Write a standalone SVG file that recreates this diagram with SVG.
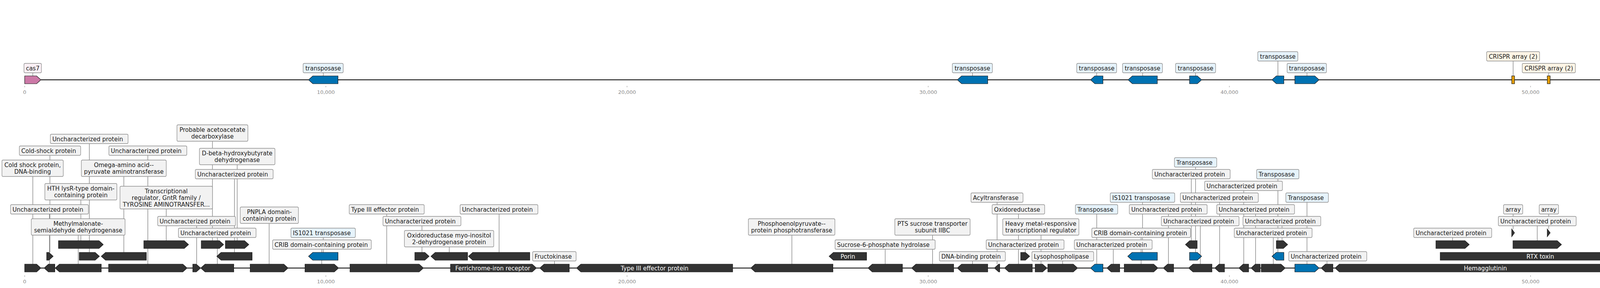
<svg xmlns="http://www.w3.org/2000/svg" width="6788" height="736" viewBox="0 0 6788 736">
<style>
text{font-family:"DejaVu Sans",sans-serif;font-size:15px;fill:#1a1a1a}
.m{text-anchor:middle}
.w{fill:#ffffff}
.ax{font-size:13px;fill:#8a8a8a;text-anchor:middle}
.tk{stroke:#8a8a8a;stroke-width:1}
.trk{stroke:#000;stroke-width:2.2}
.gn{fill:#333333;stroke:#1a1a1a;stroke-width:1.2}
.tp{fill:#0072b2;stroke:#1a1a1a;stroke-width:1.2}
.c7{fill:#cc79a7;stroke:#1a1a1a;stroke-width:1.2}
.c8{fill:#f0e442;stroke:#1a1a1a;stroke-width:1.2}
.c5{fill:#56b4e9;stroke:#1a1a1a;stroke-width:1.2}
.cr{fill:#e69f00;stroke:#1a1a1a;stroke-width:1.2}
.lb{fill:#f2f2f2;stroke:#8f8f8f;stroke-width:1.3}
.lt{fill:#e6f3fb;stroke:#8f8f8f;stroke-width:1.3}
.lc{fill:#fdf5e6;stroke:#8f8f8f;stroke-width:1.3}
.lp{fill:#faf0f5;stroke:#8f8f8f;stroke-width:1.3}
#connectors path{stroke:#555;stroke-width:1;fill:none}
</style>
<rect width="6788" height="736" fill="#ffffff"/>
<g id="axes">
<line class="trk" x1="63" y1="204" x2="6728" y2="204"/>
<line class="trk" x1="63" y1="685" x2="6728" y2="685"/>
<path class="tk" d="M63.2 219.5V223M834.2 219.5V223M1605.2 219.5V223M2376.2 219.5V223M3147.2 219.5V223M3918.2 219.5V223M4689.2 219.5V223M5460.2 219.5V223M6231.2 219.5V223M63.2 703.5V707.5M834.2 703.5V707.5M1605.2 703.5V707.5M2376.2 703.5V707.5M3147.2 703.5V707.5M3918.2 703.5V707.5M4689.2 703.5V707.5M5460.2 703.5V707.5M6231.2 703.5V707.5"/>
<text class="ax" x="63.2" y="240">0</text><text class="ax" x="834.2" y="240">10,000</text><text class="ax" x="1605.2" y="240">20,000</text><text class="ax" x="2376.2" y="240">30,000</text><text class="ax" x="3147.2" y="240">40,000</text><text class="ax" x="3918.2" y="240">50,000</text><text class="ax" x="4689.2" y="240">60,000</text><text class="ax" x="5460.2" y="240">70,000</text><text class="ax" x="6231.2" y="240">80,000</text>
<text class="ax" x="63.2" y="724">0</text><text class="ax" x="834.2" y="724">10,000</text><text class="ax" x="1605.2" y="724">20,000</text><text class="ax" x="2376.2" y="724">30,000</text><text class="ax" x="3147.2" y="724">40,000</text><text class="ax" x="3918.2" y="724">50,000</text><text class="ax" x="4689.2" y="724">60,000</text><text class="ax" x="5460.2" y="724">70,000</text><text class="ax" x="6231.2" y="724">80,000</text>
</g>
<g id="connectors">
<path d="M84 186V194"/><path d="M827.5 186V194"/><path d="M2489.6 186V194"/><path d="M2807.7 186V194"/><path d="M2925.3 186V194"/><path d="M3060.7 186V194"/><path d="M3271.5 156V194"/><path d="M3345.9 186V194"/><path d="M3873.6 156V194"/><path d="M3964.8 186V194"/><path d="M6328.3 186V194"/>
<path d="M84 451V675"/><path d="M126.7 547V675"/><path d="M200.2 601V675"/><path d="M378.5 397V675"/><path d="M503.5 577V675"/><path d="M556.3 607V675"/><path d="M689 571V675"/><path d="M823.7 637V675"/><path d="M990 547V675"/><path d="M1419.5 667V675"/><path d="M2027.2 601V675"/><path d="M2266.1 637V675"/><path d="M2387.5 601V675"/><path d="M2489.6 667V675"/><path d="M2552.5 517V675"/><path d="M2607.2 547V675"/><path d="M2665 601V675"/><path d="M2720.5 667V675"/><path d="M2807.7 547V675"/><path d="M2850 637V675"/><path d="M2921.2 607V675"/><path d="M2991.2 547V675"/><path d="M3072.8 577V675"/><path d="M3122.3 517V675"/><path d="M3184 487V675"/><path d="M3214.3 547V675"/><path d="M3259.6 607V675"/><path d="M3345.9 517V675"/><path d="M3397.1 667V675"/><path d="M4298.3 577V675"/><path d="M4459.2 607V675"/><path d="M4616.6 451V675"/><path d="M4685.6 547V675"/><path d="M4831.6 631V675"/><path d="M4959 511V675"/><path d="M5076.7 631V675"/><path d="M5150.9 577V675"/><path d="M5318 517V675"/><path d="M5524.3 571V675"/><path d="M5661.3 637V675"/><path d="M5700.7 667V675"/><path d="M5827.3 607V675"/><path d="M5954.6 667V675"/><path d="M6095.5 607V675"/><path d="M6224 541V675"/><path d="M6332.2 637V675"/><path d="M6466.1 667V675"/><path d="M6586.3 547V675"/><path d="M6668 631V675"/>
<path d="M127.8 397V645"/><path d="M228.7 367V645"/><path d="M317 451V645"/><path d="M600.2 457V645"/><path d="M827.5 607V645"/><path d="M1080.2 577V645"/><path d="M1150.1 631V645"/><path d="M1277.7 547V645"/><path d="M2624.5 637V645"/><path d="M2924.9 517V645"/><path d="M3060.7 427V645"/><path d="M3271.5 457V645"/><path d="M4327 547V645"/><path d="M4456.2 637V645"/><path d="M4549 511V645"/><path d="M4751.3 577V645"/><path d="M5029.6 547V645"/><path d="M5313 607V645"/><path d="M5489.2 487V645"/><path d="M5606.7 451V645"/><path d="M6204.9 577V645"/><path d="M6328.3 607V645"/><path d="M6648.4 577V645"/>
<path d="M207 511V615"/><path d="M425.5 534V615"/><path d="M543.8 361V615"/><path d="M607.2 421V615"/><path d="M3049.7 457V615"/><path d="M3282 577V615"/><path d="M3718.7 607V615"/><path d="M3935.3 577V615"/><path d="M4209.2 607V615"/><path d="M5415.7 457V615"/>
<path d="M3873.6 547V585"/><path d="M3964.8 547V585"/>
</g>
<g id="top-track">
<g id="t1"><path class="c7" d="M63.2 194H93.7L104.7 204L93.7 214H63.2Z"/><rect class="lp" x="61.4" y="162" width="44.7" height="24" rx="3"/><text class="m" x="83.8" y="179.5">cas7</text></g>
<g id="t2"><path class="tp" d="M865.3 194H800.8L789.8 204L800.8 214H865.3Z"/><rect class="lt" x="776" y="162" width="102.6" height="24" rx="3"/><text class="m" x="827.3" y="179.5">transposase</text></g>
<g id="t3"><path class="tp" d="M2528.6 194H2461.7L2450.7 204L2461.7 214H2528.6Z"/><rect class="lt" x="2438" y="162" width="102.5" height="24" rx="3"/><text class="m" x="2489.3" y="179.5">transposase</text></g>
<g id="t4"><path class="tp" d="M2823.6 194H2802.8L2791.8 204L2802.8 214H2823.6Z"/><rect class="lt" x="2756.4" y="162" width="102.1" height="24" rx="3"/><text class="m" x="2807.5" y="179.5">transposase</text></g>
<g id="t5"><path class="tp" d="M2962.8 194H2898.8L2887.8 204L2898.8 214H2962.8Z"/><rect class="lt" x="2873.7" y="162" width="102.1" height="24" rx="3"/><text class="m" x="2924.8" y="179.5">transposase</text></g>
<g id="t6"><path class="tp" d="M3045.2 194H3065.2L3076.2 204L3065.2 214H3045.2Z"/><rect class="lt" x="3009.4" y="162" width="102.5" height="24" rx="3"/><text class="m" x="3060.7" y="179.5">transposase</text></g>
<g id="t7"><path class="tp" d="M3286.7 194H3267.3L3256.3 204L3267.3 214H3286.7Z"/><rect class="lt" x="3219.9" y="132" width="102.6" height="24" rx="3"/><text class="m" x="3271.2" y="149.5">transposase</text></g>
<g id="t8"><path class="tp" d="M3314.8 194H3365.9L3376.9 204L3365.9 214H3314.8Z"/><rect class="lt" x="3295" y="162" width="100.7" height="24" rx="3"/><text class="m" x="3345.4" y="179.5">transposase</text></g>
<g id="t9"><rect class="cr" x="3870" y="194" width="7.2" height="20"/><rect class="lc" x="3805.7" y="132" width="135.7" height="24" rx="3"/><text class="m" x="3873.6" y="149.5">CRISPR array (2)</text></g>
<g id="t10"><rect class="cr" x="3961" y="194" width="7.5" height="20"/><rect class="lc" x="3897" y="162" width="136" height="24" rx="3"/><text class="m" x="3965" y="179.5">CRISPR array (2)</text></g>
<g id="t11"><path class="c8" d="M4365.2 194H4243L4232 204L4243 214H4365.2Z"/><text class="m" x="4298.6" y="209.5">cas8</text></g>
<g id="t12"><path class="gn" d="M4885.4 194H4788.8L4777.8 204L4788.8 214H4885.4Z"/><text class="m w" x="4831.6" y="209.5">glmS</text></g>
<g id="t13"><path class="tp" d="M6290.2 194H6355.4L6366.4 204L6355.4 214H6290.2Z"/><rect class="lt" x="6277" y="162" width="102.8" height="24" rx="3"/><text class="m" x="6328.4" y="179.5">transposase</text></g>
<g id="t14"><path class="c5" d="M6727.8 194H6620.4L6609.4 204L6620.4 214H6727.8Z"/><text class="m" x="6668.6" y="209.5">cas5</text></g>
</g>
<g id="bottom-track">
<g id="g1"><path class="gn" d="M63.2 675H93.7L104.7 685L93.7 695H63.2Z"/><rect class="lb" x="5" y="409" width="157" height="42" rx="3"/><text class="m"><tspan x="83.5" y="427">Cold shock protein,</tspan><tspan x="83.5" y="444">DNA-binding</tspan></text></g>
<g id="g2"><path class="gn" d="M140.4 675H124L113 685L124 695H140.4Z"/><rect class="lb" x="27" y="523" width="199.4" height="24" rx="3"/><text x="32" y="540.5">Uncharacterized protein</text></g>
<g id="g3"><path class="gn" d="M259.2 675H152.2L141.2 685L152.2 695H259.2Z"/><rect class="lb" x="80.1" y="559" width="240.1" height="42" rx="3"/><text class="m"><tspan x="200.2" y="577">Methylmalonate-</tspan><tspan x="200.2" y="594">semialdehyde dehydrogenase</tspan></text></g>
<g id="g4"><path class="gn" d="M278 675H468L479 685L468 695H278Z"/><rect class="lb" x="278.7" y="373" width="199.6" height="24" rx="3"/><text x="283.7" y="390.5">Uncharacterized protein</text></g>
<g id="g5"><path class="gn" d="M493.5 675H502.4L513.4 685L502.4 695H493.5Z"/><rect class="lb" x="403.6" y="553" width="199.2" height="24" rx="3"/><text x="408.6" y="570.5">Uncharacterized protein</text></g>
<g id="g6"><path class="gn" d="M598.5 675H525L514 685L525 695H598.5Z"/><rect class="lb" x="456.7" y="583" width="198.8" height="24" rx="3"/><text x="461.7" y="600.5">Uncharacterized protein</text></g>
<g id="g7"><path class="gn" d="M640.4 675H726.5L737.5 685L726.5 695H640.4Z"/><rect class="lb" x="615" y="529" width="149" height="42" rx="3"/><text class="m"><tspan x="689.5" y="547">PNPLA domain-</tspan><tspan x="689.5" y="564">containing protein</tspan></text></g>
<g id="g8"><path class="gn" d="M780.8 675H855.7L866.7 685L855.7 695H780.8Z"/><rect class="lb" x="697.8" y="613" width="252.7" height="24" rx="3"/><text x="702.8" y="630.5">CRIB domain-containing protein</text></g>
<g id="g9"><path class="gn" d="M896 675H1073L1084 685L1073 695H896Z"/><rect class="lb" x="894" y="523" width="192" height="24" rx="3"/><text x="899" y="540.5">Type III effector protein</text></g>
<g id="g10"><path class="gn" d="M1153.3 675H1362.3L1373.3 685L1362.3 695H1153.3Z"/><text class="m w" x="1261.5" y="690.5">Ferrichrome-iron receptor</text></g>
<g id="g11"><path class="gn" d="M1457.3 675H1392.8L1381.8 685L1392.8 695H1457.3Z"/><rect class="lb" x="1363.5" y="643" width="111.3" height="24" rx="3"/><text x="1368.5" y="660.5">Fructokinase</text></g>
<g id="g12"><path class="gn" d="M1875.6 675H1487L1476 685L1487 695H1875.6Z"/><text class="m w" x="1675.8" y="690.5">Type III effector protein</text></g>
<g id="g13"><path class="gn" d="M2132.3 675H1933L1922 685L1933 695H2132.3Z"/><rect class="lb" x="1915.8" y="559" width="221.6" height="42" rx="3"/><text class="m"><tspan x="2026.6" y="577">Phosphoenolpyruvate--</tspan><tspan x="2026.6" y="594">protein phosphotransferase</tspan></text></g>
<g id="g14"><path class="gn" d="M2310.2 675H2233L2222 685L2233 695H2310.2Z"/><rect class="lb" x="2137.7" y="613" width="256.3" height="24" rx="3"/><text x="2142.7" y="630.5">Sucrose-6-phosphate hydrolase</text></g>
<g id="g15"><path class="gn" d="M2441.3 675H2344.7L2333.7 685L2344.7 695H2441.3Z"/><rect class="lb" x="2290.7" y="559" width="192.8" height="42" rx="3"/><text class="m"><tspan x="2387.1" y="577">PTS sucrose transporter</tspan><tspan x="2387.1" y="594">subunit IIBC</tspan></text></g>
<g id="g16"><path class="gn" d="M2528.6 675H2461.6L2450.6 685L2461.6 695H2528.6Z"/><rect class="lb" x="2404.8" y="643" width="168.9" height="24" rx="3"/><text x="2409.8" y="660.5">DNA-binding protein</text></g>
<g id="g17"><path class="gn" d="M2559.3 675H2556.6L2545.6 685L2556.6 695H2559.3Z"/><rect class="lb" x="2485.7" y="493" width="133.2" height="24" rx="3"/><text x="2490.7" y="510.5">Acyltransferase</text></g>
<g id="g18"><path class="gn" d="M2642.7 675H2582.6L2571.6 685L2582.6 695H2642.7Z"/><rect class="lb" x="2539.8" y="523" width="134.6" height="24" rx="3"/><text x="2544.8" y="540.5">Oxidoreductase</text></g>
<g id="g19"><path class="gn" d="M2650 675H2669L2680 685L2669 695H2650Z"/><rect class="lb" x="2567" y="559" width="195" height="42" rx="3"/><text class="m"><tspan x="2664.5" y="577">Heavy metal-responsive</tspan><tspan x="2664.5" y="594">transcriptional regulator</tspan></text></g>
<g id="g20"><path class="gn" d="M2682.4 675H2747.6L2758.6 685L2747.6 695H2682.4Z"/><rect class="lb" x="2641.6" y="643" width="158.1" height="24" rx="3"/><text x="2646.6" y="660.5">Lysophospholipase</text></g>
<g id="g21"><path class="tp" d="M2823.6 675H2802.8L2791.8 685L2802.8 695H2823.6Z"/><rect class="lt" x="2753" y="523" width="108.4" height="24" rx="3"/><text x="2758" y="540.5">Transposase</text></g>
<g id="g22"><path class="gn" d="M2866.5 675H2844.6L2833.6 685L2844.6 695H2866.5Z"/><rect class="lb" x="2750.3" y="613" width="199.2" height="24" rx="3"/><text x="2755.3" y="630.5">Uncharacterized protein</text></g>
<g id="g23"><path class="gn" d="M2878 675H2953.3L2964.3 685L2953.3 695H2878Z"/><rect class="lb" x="2795" y="583" width="252.7" height="24" rx="3"/><text x="2800" y="600.5">CRIB domain-containing protein</text></g>
<g id="g24"><path class="gn" d="M3004.4 675H2989L2978 685L2989 695H3004.4Z"/><rect class="lb" x="2891" y="523" width="199.3" height="24" rx="3"/><text x="2896" y="540.5">Uncharacterized protein</text></g>
<g id="g25"><path class="gn" d="M3102.6 675H3054L3043 685L3054 695H3102.6Z"/><rect class="lb" x="2973" y="553" width="198.9" height="24" rx="3"/><text x="2978" y="570.5">Uncharacterized protein</text></g>
<g id="g26"><path class="gn" d="M3134.7 675H3120.8L3109.8 685L3120.8 695H3134.7Z"/><rect class="lb" x="3021.7" y="493" width="199.6" height="24" rx="3"/><text x="3026.7" y="510.5">Uncharacterized protein</text></g>
<g id="g27"><path class="gn" d="M3196.4 675H3182.5L3171.5 685L3182.5 695H3196.4Z"/><rect class="lb" x="3083.8" y="463" width="199.2" height="24" rx="3"/><text x="3088.8" y="480.5">Uncharacterized protein</text></g>
<g id="g28"><path class="gn" d="M3226 675H3213.6L3202.6 685L3213.6 695H3226Z"/><rect class="lb" x="3114.8" y="523" width="199.2" height="24" rx="3"/><text x="3119.8" y="540.5">Uncharacterized protein</text></g>
<g id="g29"><path class="gn" d="M3228.9 675H3279.3L3290.3 685L3279.3 695H3228.9Z"/><rect class="lb" x="3159.6" y="583" width="199.3" height="24" rx="3"/><text x="3164.6" y="600.5">Uncharacterized protein</text></g>
<g id="g30"><path class="tp" d="M3314.8 675H3365.9L3376.9 685L3365.9 695H3314.8Z"/><rect class="lt" x="3291.7" y="493" width="109" height="24" rx="3"/><text x="3296.7" y="510.5">Transposase</text></g>
<g id="g31"><path class="gn" d="M3412.2 675H3393L3382 685L3393 695H3412.2Z"/><rect class="lb" x="3299.3" y="643" width="199.6" height="24" rx="3"/><text x="3304.3" y="660.5">Uncharacterized protein</text></g>
<g id="g32"><path class="gn" d="M4187.6 675H3428.7L3417.7 685L3428.7 695H4187.6Z"/><text class="m w" x="3802.7" y="690.5">Hemagglutinin</text></g>
<g id="g33"><path class="gn" d="M4365.2 675H4242.3L4231.3 685L4242.3 695H4365.2Z"/><rect class="lb" x="4198.4" y="553" width="199.3" height="24" rx="3"/><text x="4203.4" y="570.5">Uncharacterized protein</text></g>
<g id="g34"><path class="gn" d="M4383.3 675H4524L4535 685L4524 695H4383.3Z"/><rect class="lb" x="4360.2" y="583" width="199.2" height="24" rx="3"/><text x="4365.2" y="600.5">Uncharacterized protein</text></g>
<g id="g35"><path class="gn" d="M4572 675H4650.2L4661.2 685L4650.2 695H4572Z"/><rect class="lb" x="4547.9" y="409" width="138.6" height="42" rx="3"/><text class="m"><tspan x="4617.2" y="427">Glucose-fructose</tspan><tspan x="4617.2" y="444">oxidoreductase</tspan></text></g>
<g id="g36"><path class="gn" d="M4705 675H4677.3L4666.3 685L4677.3 695H4705Z"/><rect class="lb" x="4585.8" y="523" width="199.2" height="24" rx="3"/><text x="4590.8" y="540.5">Uncharacterized protein</text></g>
<g id="g37"><path class="gn" d="M4885.4 675H4788.8L4777.8 685L4788.8 695H4885.4Z"/><rect class="lb" x="4707.8" y="589" width="246.9" height="42" rx="3"/><text class="m"><tspan x="4831.2" y="607">Sigma-54-dependent Fis family</tspan><tspan x="4831.2" y="624">transcriptional regulator</tspan></text></g>
<g id="g38"><path class="gn" d="M5032.7 675H4896.4L4885.4 685L4896.4 695H5032.7Z"/><rect class="lb" x="4875" y="469" width="168.5" height="42" rx="3"/><text class="m"><tspan x="4959.2" y="487">Transmembrane</tspan><tspan x="4959.2" y="504">protein, hypothetical</tspan></text></g>
<g id="g39"><path class="gn" d="M5111.3 675H5053L5042 685L5053 695H5111.3Z"/><rect class="lb" x="4989.7" y="589" width="173.3" height="42" rx="3"/><text class="m"><tspan x="5076.3" y="607">TPR_REGION domain-</tspan><tspan x="5076.3" y="624">containing protein</tspan></text></g>
<g id="g40"><path class="gn" d="M5189 675H5123.8L5112.8 685L5123.8 695H5189Z"/><rect class="lb" x="5037" y="553" width="227.7" height="24" rx="3"/><text x="5042" y="570.5">Pilus assembly protein TadC</text></g>
<g id="g41"><path class="gn" d="M5260.8 675H5364.2L5375.2 685L5364.2 695H5260.8Z"/><rect class="lb" x="5218.5" y="493" width="199.7" height="24" rx="3"/><text x="5223.5" y="510.5">Uncharacterized protein</text></g>
<g id="g42"><path class="gn" d="M5580.6 675H5479L5468 685L5479 695H5580.6Z"/><rect class="lb" x="5422.5" y="529" width="203.3" height="42" rx="3"/><text class="m"><tspan x="5524.1" y="547">T2SS-T3SS_pil_N domain-</tspan><tspan x="5524.1" y="564">containing protein</tspan></text></g>
<g id="g43"><path class="gn" d="M5679.9 675H5653.7L5642.7 685L5653.7 695H5679.9Z"/><rect class="lb" x="5554.3" y="613" width="214" height="24" rx="3"/><text x="5559.3" y="630.5">Flp pilus assembly protein</text></g>
<g id="g44"><path class="gn" d="M5716 675H5696.3L5685.3 685L5696.3 695H5716Z"/><rect class="lb" x="5656.5" y="643" width="88.3" height="24" rx="3"/><text x="5661.5" y="660.5">Peptidase</text></g>
<g id="g45"><path class="gn" d="M5868.3 675H5797.4L5786.4 685L5797.4 695H5868.3Z"/><rect class="lb" x="5764" y="583" width="126.3" height="24" rx="3"/><text x="5769" y="600.5">Hemagglutinin</text></g>
<g id="g46"><path class="gn" d="M5897.2 675H6001L6012 685L6001 695H5897.2Z"/><rect class="lb" x="5891.8" y="643" width="126.2" height="24" rx="3"/><text x="5896.8" y="660.5">Hemagglutinin</text></g>
<g id="g47"><path class="gn" d="M6026.4 675H6153.7L6164.7 685L6153.7 695H6026.4Z"/><rect class="lb" x="5982.7" y="583" width="225.7" height="24" rx="3"/><text x="5987.7" y="600.5">Activation/secretion protein</text></g>
<g id="g48"><path class="gn" d="M6173.7 675H6263.4L6274.4 685L6263.4 695H6173.7Z"/><rect class="lb" x="6126.4" y="499" width="195.2" height="42" rx="3"/><text class="m"><tspan x="6224" y="517">Helix-turn-helix</tspan><tspan x="6224" y="534">transcriptional regulator</tspan></text></g>
<g id="g49"><path class="gn" d="M6375 675H6300.5L6289.5 685L6300.5 695H6375Z"/><rect class="lb" x="6205.8" y="613" width="252.7" height="24" rx="3"/><text x="6210.8" y="630.5">CRIB domain-containing protein</text></g>
<g id="g50"><path class="gn" d="M6385.2 675H6536L6547 685L6536 695H6385.2Z"/><rect class="lb" x="6382" y="643" width="168.6" height="24" rx="3"/><text x="6387" y="660.5">Diguanylate cyclase</text></g>
<g id="g51"><path class="gn" d="M6572.2 675H6589.4L6600.4 685L6589.4 695H6572.2Z"/><rect class="lb" x="6526" y="523" width="121" height="24" rx="3"/><text x="6531" y="540.5">Endonuclease</text></g>
<g id="g52"><path class="gn" d="M6727.8 675H6619.3L6608.3 685L6619.3 695H6727.8Z"/><rect class="lb" x="6553.8" y="589" width="229.6" height="42" rx="3"/><text class="m"><tspan x="6668.6" y="607">Methyl-accepting transducer</tspan><tspan x="6668.6" y="624">domain-containing protein</tspan></text></g>

<g id="h1"><path class="gn" d="M119.5 645H125.1L136.1 655L125.1 665H119.5Z"/><rect class="lb" x="49.5" y="373" width="157" height="24" rx="3"/><text x="54.5" y="390.5">Cold-shock protein</text></g>
<g id="h2"><path class="gn" d="M202.9 645H243.5L254.5 655L243.5 665H202.9Z"/><rect class="lb" x="128.9" y="343" width="198.9" height="24" rx="3"/><text x="133.9" y="360.5">Uncharacterized protein</text></g>
<g id="h3"><path class="gn" d="M374.7 645H270.2L259.2 655L270.2 665H374.7Z"/><rect class="lb" x="208.3" y="409" width="217.3" height="42" rx="3"/><text class="m"><tspan x="317" y="427">Omega-amino acid--</tspan><tspan x="317" y="444">pyruvate aminotransferase</tspan></text></g>
<g id="h4"><path class="gn" d="M645.4 645H566L555 655L566 665H645.4Z"/><rect class="lb" x="500" y="433" width="199.2" height="24" rx="3"/><text x="505" y="450.5">Uncharacterized protein</text></g>
<g id="h5"><path class="tp" d="M865.3 645H800.8L789.8 655L800.8 665H865.3Z"/><rect class="lt" x="744.7" y="583" width="165" height="24" rx="3"/><text x="749.7" y="600.5">IS1021 transposase</text></g>
<g id="h6"><path class="gn" d="M1062 645H1087.5L1098.5 655L1087.5 665H1062Z"/><rect class="lb" x="980.4" y="553" width="199.6" height="24" rx="3"/><text x="985.4" y="570.5">Uncharacterized protein</text></g>
<g id="h7"><path class="gn" d="M1197 645H1114.2L1103.2 655L1114.2 665H1197Z"/><rect class="lb" x="1035.3" y="589" width="228.7" height="42" rx="3"/><text class="m"><tspan x="1149.7" y="607">Oxidoreductase myo-inositol</tspan><tspan x="1149.7" y="624">2-dehydrogenase protein</tspan></text></g>
<g id="h8"><path class="gn" d="M1356.2 645H1210.2L1199.2 655L1210.2 665H1356.2Z"/><rect class="lb" x="1177.8" y="523" width="199.2" height="24" rx="3"/><text x="1182.8" y="540.5">Uncharacterized protein</text></g>
<g id="h9"><path class="gn" d="M2218.5 645H2133.5L2122.5 655L2133.5 665H2218.5Z"/><text class="m w" x="2170.5" y="660.5">Porin</text></g>
<g id="h10"><path class="gn" d="M2613 645H2625L2636 655L2625 665H2613Z"/><rect class="lb" x="2524.6" y="613" width="199.3" height="24" rx="3"/><text x="2529.6" y="630.5">Uncharacterized protein</text></g>
<g id="h11"><path class="tp" d="M2962.8 645H2898L2887 655L2898 665H2962.8Z"/><rect class="lt" x="2842.3" y="493" width="165" height="24" rx="3"/><text x="2847.3" y="510.5">IS1021 transposase</text></g>
<g id="h12"><path class="tp" d="M3045.2 645H3065.2L3076.2 655L3065.2 665H3045.2Z"/><rect class="lt" x="3006.5" y="403" width="108.3" height="24" rx="3"/><text x="3011.5" y="420.5">Transposase</text></g>
<g id="h13"><path class="tp" d="M3286.7 645H3267.3L3256.3 655L3267.3 665H3286.7Z"/><rect class="lt" x="3217" y="433" width="108.3" height="24" rx="3"/><text x="3222" y="450.5">Transposase</text></g>
<g id="h14"><path class="gn" d="M3687 645H4188.5L4199.5 655L4188.5 665H3687Z"/><text class="m w" x="3943.2" y="660.5">RTX toxin</text></g>
<g id="h15"><path class="gn" d="M4274.3 645H4368.7L4379.7 655L4368.7 665H4274.3Z"/><rect class="lb" x="4227.3" y="523" width="199.3" height="24" rx="3"/><text x="4232.3" y="540.5">Uncharacterized protein</text></g>
<g id="h16"><path class="gn" d="M4527 645H4396.5L4385.5 655L4396.5 665H4527Z"/><rect class="lb" x="4355.9" y="613" width="201" height="24" rx="3"/><text x="4360.9" y="630.5">Transcriptional regulator</text></g>
<g id="h17"><path class="gn" d="M4535.2 645H4551.7L4562.7 655L4551.7 665H4535.2Z"/><rect class="lb" x="4457.6" y="469" width="181.9" height="42" rx="3"/><text class="m"><tspan x="4548.5" y="487">Antibiotic biosynthesis</tspan><tspan x="4548.5" y="504">monooxygenase</tspan></text></g>
<g id="h18"><path class="gn" d="M4794.8 645H4718.8L4707.8 655L4718.8 665H4794.8Z"/><rect class="lb" x="4651.5" y="553" width="199.5" height="24" rx="3"/><text x="4656.5" y="570.5">Uncharacterized protein</text></g>
<g id="h19"><path class="gn" d="M5042.4 645H5027.8L5016.8 655L5027.8 665H5042.4Z"/><rect class="lb" x="4929.8" y="523" width="199.2" height="24" rx="3"/><text x="4934.8" y="540.5">Uncharacterized protein</text></g>
<g id="h20"><path class="gn" d="M5365.5 645H5271.4L5260.4 655L5271.4 665H5365.5Z"/><rect class="lb" x="5198" y="583" width="229.2" height="24" rx="3"/><text x="5203" y="600.5">Pilus assembly protein CpaF</text></g>
<g id="h21"><path class="gn" d="M5454.3 645H5513L5524 655L5513 665H5454.3Z"/><rect class="lb" x="5389.7" y="463" width="199.3" height="24" rx="3"/><text x="5394.7" y="480.5">Uncharacterized protein</text></g>
<g id="h22"><path class="gn" d="M5638.8 645H5585.5L5574.5 655L5585.5 665H5638.8Z"/><rect class="lb" x="5531" y="409" width="150.7" height="42" rx="3"/><text class="m"><tspan x="5606.3" y="427">Flp pilus assembly</tspan><tspan x="5606.3" y="444">protein CpaB</tspan></text></g>
<g id="h23"><path class="gn" d="M6235.4 645H6185.4L6174.4 655L6185.4 665H6235.4Z"/><rect class="lb" x="6105.5" y="553" width="198.8" height="24" rx="3"/><text x="6110.5" y="570.5">Uncharacterized protein</text></g>
<g id="h24"><path class="tp" d="M6290.2 645H6355.4L6366.4 655L6355.4 665H6290.2Z"/><rect class="lt" x="6246.2" y="583" width="165" height="24" rx="3"/><text x="6251.2" y="600.5">IS1021 transposase</text></g>
<g id="h25"><path class="gn" d="M6619.5 645H6666.3L6677.3 655L6666.3 665H6619.5Z"/><rect class="lb" x="6548.7" y="553" width="199.3" height="24" rx="3"/><text x="6553.7" y="570.5">Uncharacterized protein</text></g>

<g id="i1"><path class="gn" d="M149.8 615H253.3L264.3 625L253.3 635H149.8Z"/><rect class="lb" x="114.8" y="469" width="184.5" height="42" rx="3"/><text class="m"><tspan x="207" y="487">HTH lysR-type domain-</tspan><tspan x="207" y="504">containing protein</tspan></text></g>
<g id="i2"><path class="gn" d="M368.2 615H471.7L482.7 625L471.7 635H368.2Z"/><rect class="lb" x="307.2" y="476" width="236.8" height="58" rx="3"/><text class="m"><tspan x="425.6" y="493.5">Transcriptional</tspan><tspan x="425.6" y="510.5">regulator, GntR family /</tspan><tspan x="425.6" y="527.5">TYROSINE AMINOTRANSFER...</tspan></text></g>
<g id="i3"><path class="gn" d="M515.2 615H561.5L572.5 625L561.5 635H515.2Z"/><rect class="lb" x="453" y="319" width="181.6" height="42" rx="3"/><text class="m"><tspan x="543.8" y="337">Probable acetoacetate</tspan><tspan x="543.8" y="354">decarboxylase</tspan></text></g>
<g id="i4"><path class="gn" d="M577 615H626L637 625L626 635H577Z"/><rect class="lb" x="510.5" y="379" width="193.4" height="42" rx="3"/><text class="m"><tspan x="607.2" y="397">D-beta-hydroxybutyrate</tspan><tspan x="607.2" y="414">dehydrogenase</tspan></text></g>
<g id="i5"><path class="gn" d="M3064.7 615H3045.7L3034.7 625L3045.7 635H3064.7Z"/><rect class="lb" x="2949.9" y="433" width="199.3" height="24" rx="3"/><text x="2954.9" y="450.5">Uncharacterized protein</text></g>
<g id="i6"><path class="gn" d="M3267.5 615H3285.4L3296.4 625L3285.4 635H3267.5Z"/><rect class="lb" x="3182" y="553" width="199.2" height="24" rx="3"/><text x="3187" y="570.5">Uncharacterized protein</text></g>
<g id="i7"><path class="gn" d="M3676 615H3750.3L3761.3 625L3750.3 635H3676Z"/><rect class="lb" x="3619" y="583" width="199.7" height="24" rx="3"/><text x="3624" y="600.5">Uncharacterized protein</text></g>
<g id="i8"><path class="gn" d="M3873.2 615H3986.4L3997.4 625L3986.4 635H3873.2Z"/><rect class="lb" x="3835.7" y="553" width="199.3" height="24" rx="3"/><text x="3840.7" y="570.5">Uncharacterized protein</text></g>
<g id="i9"><path class="gn" d="M4231 615H4198.3L4187.3 625L4198.3 635H4231Z"/><rect class="lb" x="4166" y="583" width="86" height="24" rx="3"/><text x="4171" y="600.5">RTX toxin</text></g>
<g id="i10"><path class="gn" d="M5263.7 615H5200.7L5189.7 625L5200.7 635H5263.7Z"/><text class="m w" x="5226.7" y="630.5">TadB2</text></g>
<g id="i11"><path class="gn" d="M5466.6 615H5375.8L5364.8 625L5375.8 635H5466.6Z"/><rect class="lb" x="5322.5" y="433" width="185.9" height="24" rx="3"/><text x="5327.5" y="450.5">Pilus assembly protein</text></g>

<g id="j1"><path class="gn" d="M3870 585L3877.2 595L3870 605Z"/><rect class="lb" x="3849" y="523" width="49.2" height="24" rx="3"/><text class="m" x="3873.6" y="540.5">array</text></g>
<g id="j2"><path class="gn" d="M3961 585L3968.5 595L3961 605Z"/><rect class="lb" x="3940.4" y="523" width="49.4" height="24" rx="3"/><text class="m" x="3965.1" y="540.5">array</text></g>
</g>
</svg>
